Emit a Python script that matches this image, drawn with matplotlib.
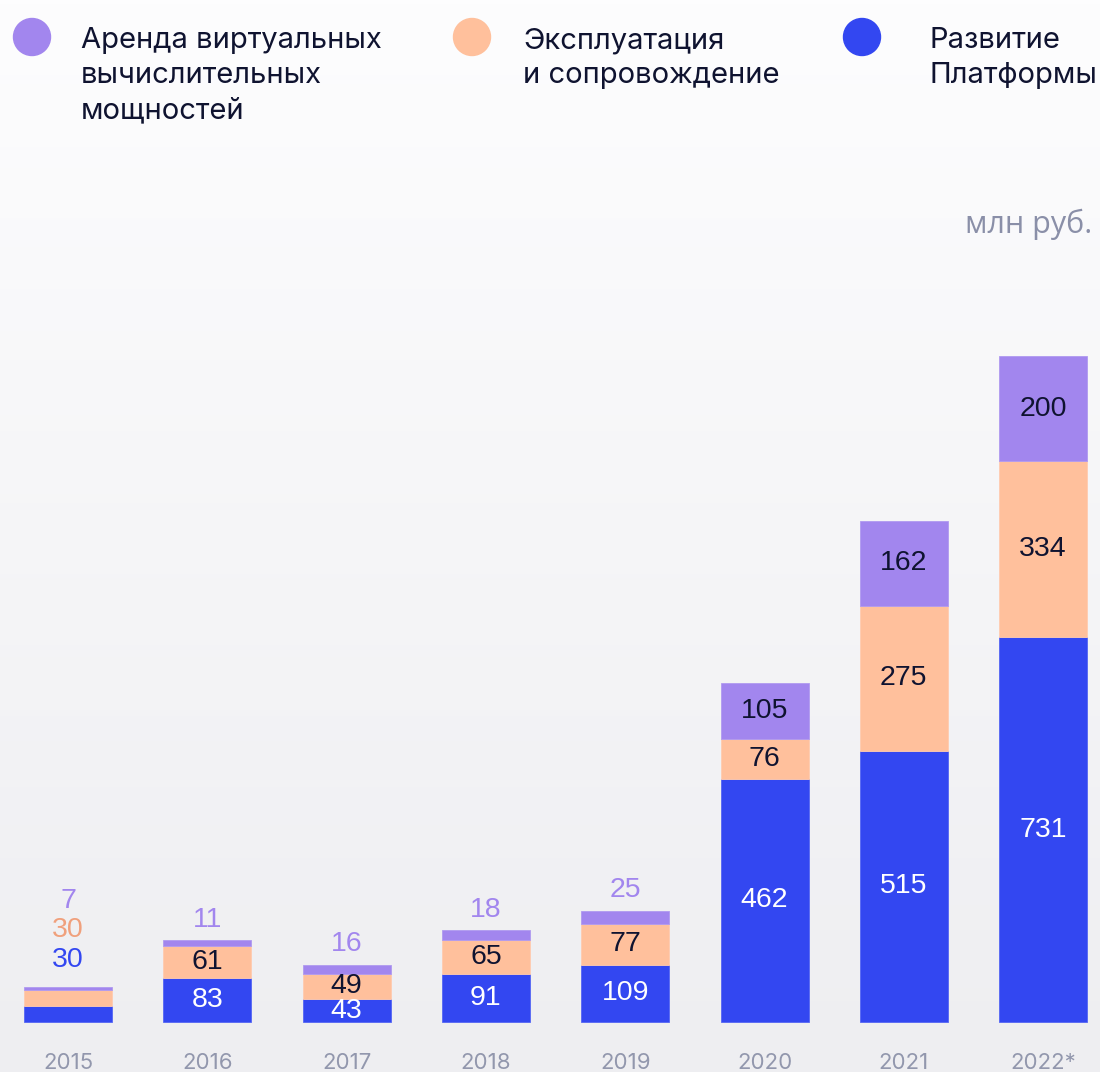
import numpy as np
import matplotlib.pyplot as plt
from matplotlib.patches import Ellipse
from matplotlib.colors import LinearSegmentedColormap

# Data (млн руб.)
years = ['2015', '2016', '2017', '2018', '2019', '2020', '2021', '2022*']
platform = [30, 83, 43, 91, 109, 462, 515, 731]      # Развитие Платформы
support = [30, 61, 49, 65, 77, 76, 275, 334]         # Эксплуатация и сопровождение
rent = [7, 11, 16, 18, 25, 105, 162, 200]            # Аренда виртуальных мощностей

blue = '#3347f1'
peach = '#ffc09c'
purple = '#a286ee'
dark = '#0f1330'

W, H = 1100, 1072
fig = plt.figure(figsize=(W / 100, H / 100), dpi=100)

# background gradient
bg = fig.add_axes([0, 0, 1, 1], zorder=-1)
cmap = LinearSegmentedColormap.from_list('bg', ['#eeeef1', '#fdfdfe'])
grad = np.linspace(0, 1, 256).reshape(-1, 1)
bg.imshow(grad, aspect='auto', cmap=cmap, origin='lower', extent=[0, 1, 0, 1])
bg.axis('off')

ax = fig.add_axes([0, 0, 1, 1])
ax.patch.set_alpha(0)
scale = 666 / 1265  # px per unit
ax.set_xlim(-0.488, 7.408)
ax.set_ylim(-50 / scale, (H - 50) / scale)
ax.axis('off')

x = np.arange(len(years))
width = 0.632
p = np.array(platform)
s = np.array(support)
r = np.array(rent)

ax.bar(x, p, width, color=blue, edgecolor='#5566f4', linewidth=0.6)
ax.bar(x, s, width, bottom=p, color=peach, edgecolor='#ffcbb0', linewidth=0.6)
ax.bar(x, r, width, bottom=p + s, color=purple, edgecolor='#b09af0', linewidth=0.6)

lab_font = dict(family=['Liberation Sans', 'DejaVu Sans'], fontsize=20.5)
threshold = 40
outside_colors = [blue, '#f0a07c', purple]
inside_colors = ['white', dark, dark]

for i in range(len(years)):
    segs = [p[i], s[i], r[i]]
    bottoms = [0, p[i], p[i] + s[i]]
    top = p[i] + s[i] + r[i]
    outs = [k for k in range(3) if segs[k] < threshold]
    base = 15 if len(outs) == 1 else 19.5
    n = 0
    for k in range(3):
        if segs[k] >= threshold:
            ax.text(i, bottoms[k] + segs[k] / 2, str(segs[k]), ha='center', va='center',
                    color=inside_colors[k], **lab_font)
        else:
            ax.annotate(str(segs[k]), xy=(i, top), xytext=(0, base + n * 21),
                        textcoords='offset points', ha='center', va='center',
                        color=outside_colors[k], **lab_font)
            n += 1
    ax.annotate(years[i], xy=(i, 0), xytext=(0, -29.5), textcoords='offset points',
                ha='center', va='center', color='#9297ad', fontsize=16,
                family=['Inter', 'DejaVu Sans'])

# legend: circle x, text x, colour, lines
items = [
    (32, 81, purple, ['Аренда виртуальных', 'вычислительных', 'мощностей']),
    (472, 523, peach, ['Эксплуатация', 'и сопровождение']),
    (862, 929, blue, ['Развитие', 'Платформы']),
]
for cx, tx, col, lines in items:
    fig.add_artist(Ellipse((cx / W, 1 - 37 / H), 37 / W, 37 / H, color=col,
                           transform=fig.transFigure))
    for j, line in enumerate(lines):
        fig.text(tx / W, 1 - (48 + 35 * j) / H, line, ha='left', va='baseline',
                 fontsize=21, color=dark, family=['Inter', 'DejaVu Sans'])

fig.text(1092 / W, 1 - 224 / H, 'млн руб.', ha='right', va='center', fontsize=22,
         color='#8a8fa8', family=['Open Sans', 'DejaVu Sans'])

fig.savefig('out.png', dpi=100)
